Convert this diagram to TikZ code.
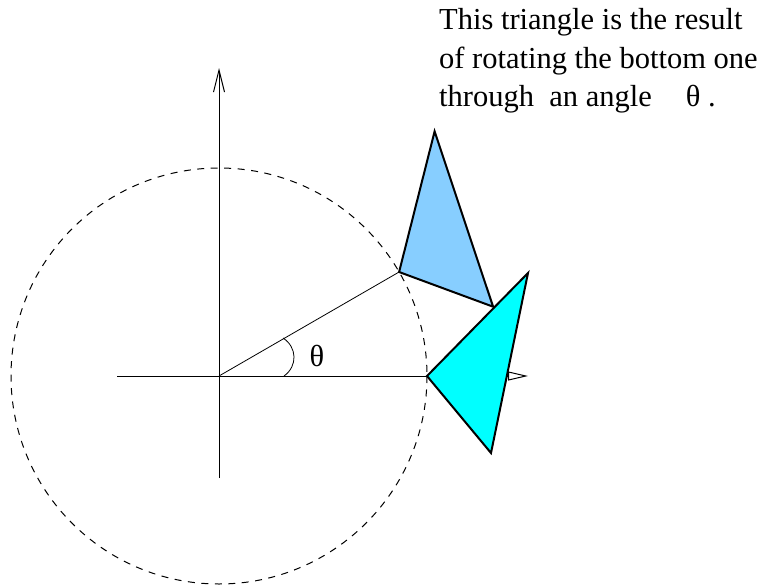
\documentclass[tikz,border=0pt]{standalone}
\usepackage{fontspec}
\setmainfont{Liberation Serif}
\usetikzlibrary{arrows.meta}
\definecolor{triA}{RGB}{0,255,255}
\definecolor{triB}{RGB}{135,206,255}
\tikzset{
  axis/.style={line width=1pt},
  tri/.style={line width=2pt, line join=miter, draw=black},
  circ/.style={line width=1pt, dash pattern=on 7pt off 6.5pt},
  txt/.style={anchor=base west, inner sep=0pt, font=\fontsize{30.5pt}{38pt}\selectfont}
}
\begin{document}
\begin{tikzpicture}[x=1pt,y=-1pt]
\useasboundingbox (0,0) rectangle (766,587);
\coordinate (O) at (219,376);
\coordinate (xl) at (117,376);
\coordinate (xr) at (528,376);
\coordinate (yb) at (219,478);
\coordinate (yt) at (219,68);
% axes
\draw[axis,-{Triangle[fill=white,length=20pt,width=9pt,line width=1pt]}] (xl) -- (xr);
\draw[axis,-{Straight Barb[length=22pt,width=11pt,line width=1pt]}] (yb) -- (yt);
% dashed circle
\draw[circ] (O) circle[radius=208];
% rotated radius and angle arc
\coordinate (A2) at (399.1,272.0);
\draw[line width=0.8pt] (O) -- (A2);
\draw[line width=0.8pt] (284,376) .. controls (298,366) and (297,347) .. (283,338);
\node[txt, anchor=center] (th) at (317,356) {θ};
% bottom triangle
\coordinate (A1) at (427,376);
\coordinate (B1) at (528,273);
\coordinate (C1) at (491,453);
\draw[tri, fill=triA] (A1) -- (B1) -- (C1) -- cycle;
% rotated triangle
\coordinate (B2) at (434.6,131.4);
\coordinate (C2) at (493.1,306.7);
\draw[tri, fill=triB] (A2) -- (B2) -- (C2) -- cycle;
% text
\node[txt] (t1) at (439,29) {This triangle is the result};
\node[txt] (t2) at (439,68) {of rotating the bottom one};
\node[txt] (t3) at (439,106) {through\ \ an angle\hspace{34pt}θ\ .};
\end{tikzpicture}
\end{document}
